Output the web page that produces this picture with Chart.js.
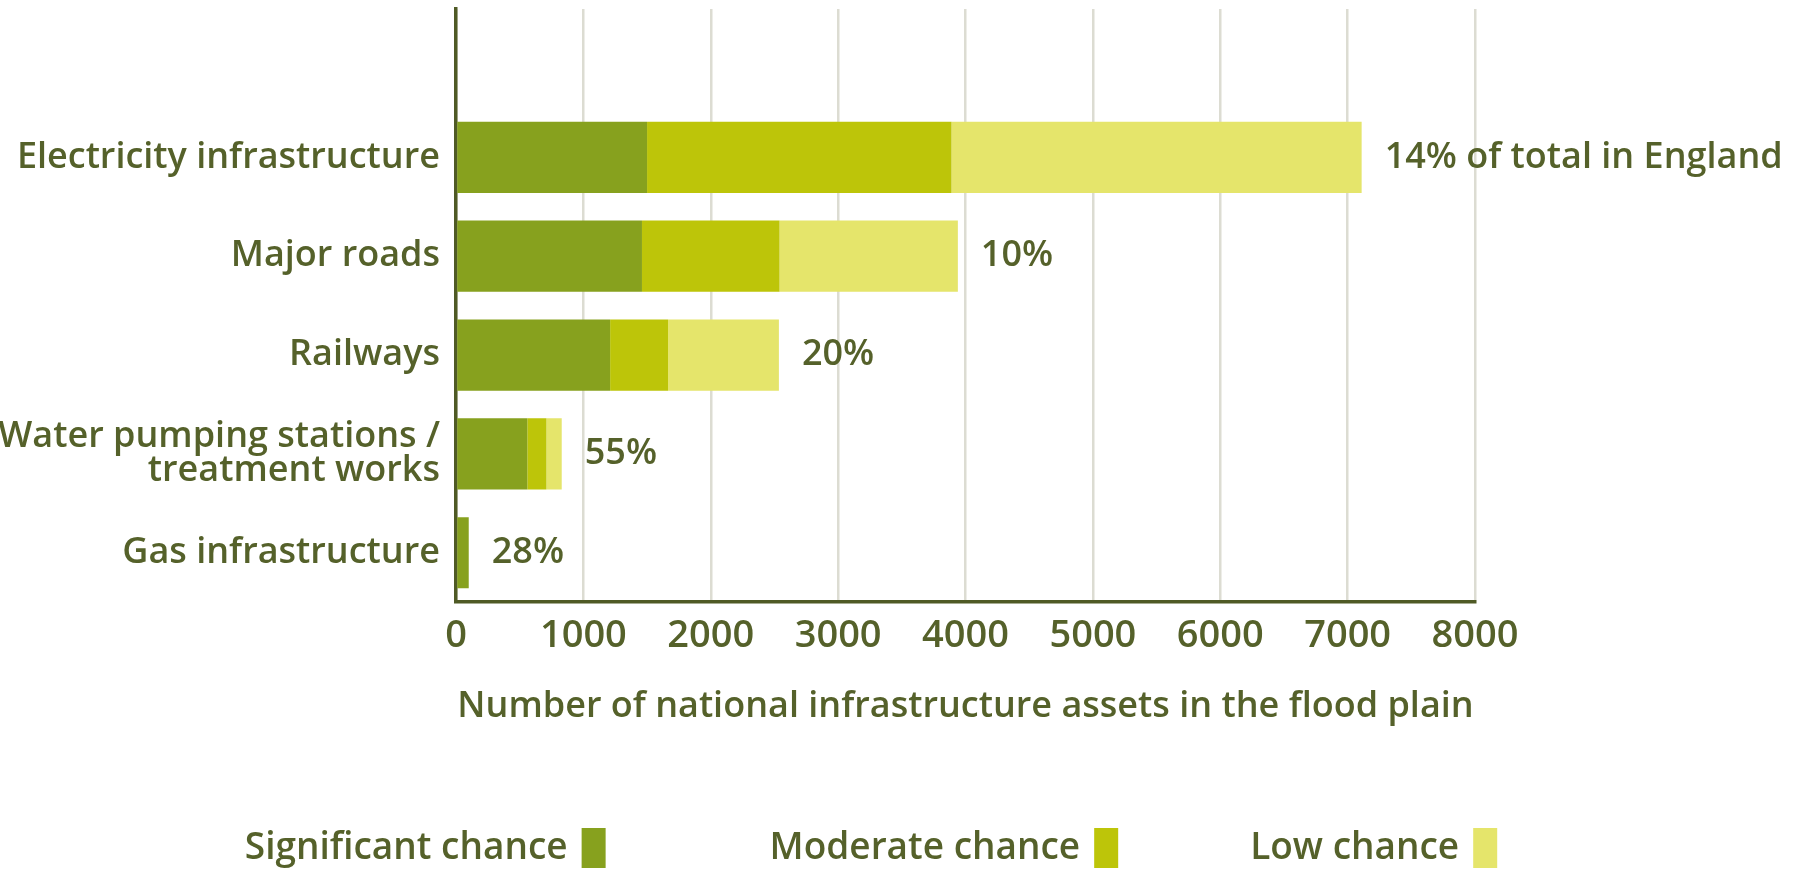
<!DOCTYPE html>
<html>
<head>
<meta charset="utf-8">
<title>National infrastructure assets in the flood plain</title>
<script src="https://cdn.jsdelivr.net/npm/chart.js@4.4.1/dist/chart.umd.min.js"></script>
<style>
  body { margin: 0; background: #ffffff; }
  #floodChart { display: block; }
</style>
</head>
<body>
<canvas id="floodChart" width="1798" height="869"></canvas>
<script>
const categories = [
    "Electricity infrastructure",
    "Major roads",
    "Railways",
    ["Water pumping stations /", "treatment works"],
    "Gas infrastructure"
];
const significantChance = [1500, 1460, 1210, 560, 100];
const moderateChance = [2390, 1080, 455, 150, 0];
const lowChance = [3220, 1400, 870, 120, 0];
const shareOfTotal = ["14% of total in England", "10%", "20%", "55%", "28%"];
const xTicks = [0, 1000, 2000, 3000, 4000, 5000, 6000, 7000, 8000];

const textColor = "#55612a";
const axisColor = "#4f5a25";
const fontFamily = "'Open Sans', 'Noto Sans', sans-serif";

// empty slot on top so the axis line runs up above the first bar
const labels = [""].concat(categories);
const withGap = arr => [null].concat(arr);

// the % labels at the end of each bar
const shareLabels = {
    id: "shareLabels",
    afterDatasetsDraw(chart) {
        const ctx = chart.ctx;
        const x = chart.scales.x;
        const y = chart.scales.y;
        ctx.save();
        ctx.font = "600 36px " + fontFamily;
        ctx.fillStyle = textColor;
        ctx.textAlign = "left";
        ctx.textBaseline = "middle";
        shareOfTotal.forEach((txt, i) => {
            const total = significantChance[i] + moderateChance[i] + lowChance[i];
            ctx.fillText(txt, x.getPixelForValue(total) + 23, y.getPixelForValue(i + 1));
        });
        ctx.restore();
    }
};

// legend: text first, then a tall swatch to its right
const sideLegend = {
    id: "sideLegend",
    afterDraw(chart) {
        const ctx = chart.ctx;
        const sets = chart.data.datasets;
        const gaps = [164, 132], swGap = 14, swW = 24, swH = 40;
        ctx.save();
        ctx.font = "600 37px " + fontFamily;
        const widths = sets.map(d => ctx.measureText(d.label).width + swGap + swW);
        const full = widths.reduce((a, b) => a + b, 0) + gaps.reduce((a, b) => a + b, 0);
        let x = 871 - full / 2;
        const cy = chart.height - 21;
        ctx.textAlign = "left";
        ctx.textBaseline = "middle";
        sets.forEach((d, i) => {
            ctx.fillStyle = textColor;
            ctx.fillText(d.label, x, cy);
            const tw = ctx.measureText(d.label).width;
            ctx.fillStyle = d.backgroundColor;
            ctx.fillRect(x + tw + swGap, cy - swH / 2, swW, swH);
            x += widths[i] + (gaps[i] || 0);
        });
        ctx.restore();
    }
};

const ctx = document.getElementById("floodChart").getContext("2d");
new Chart(ctx, {
    type: "bar",
    data: {
        labels: labels,
        datasets: [{
            label: "Significant chance",
            data: withGap(significantChance),
            backgroundColor: "#87a11e"
        }, {
            label: "Moderate chance",
            data: withGap(moderateChance),
            backgroundColor: "#bdc509"
        }, {
            label: "Low chance",
            data: withGap(lowChance),
            backgroundColor: "#e5e56b"
        }]
    },
    plugins: [shareLabels, sideLegend],
    options: {
        indexAxis: "y",
        responsive: false,
        animation: false,
        categoryPercentage: 0.72,
        barPercentage: 1.0,
        layout: {
            padding: { top: 9, left: 0, right: 323, bottom: 141 }
        },
        scales: {
            x: {
                stacked: true,
                min: 0,
                max: 8000,
                afterBuildTicks: s => { s.ticks = xTicks.map(v => ({ value: v })); },
                grid: {
                    color: "#dcdcd2",
                    lineWidth: 2.5,
                    drawTicks: false
                },
                border: { color: axisColor, width: 3.5 },
                ticks: {
                    padding: 11,
                    color: textColor,
                    font: { family: fontFamily, size: 38, weight: "600" },
                    callback: v => String(v)
                },
                title: {
                    display: true,
                    text: "Number of national infrastructure assets in the flood plain",
                    color: textColor,
                    font: { family: fontFamily, size: 36, weight: "600" },
                    padding: { top: 15, bottom: 0 }
                }
            },
            y: {
                stacked: true,
                afterFit: s => {
                    s.width = 456;
                    s.paddingTop = 0;
                    s.paddingBottom = 0;
                },
                grid: { display: false, drawTicks: false },
                border: { color: axisColor, width: 3.5 },
                ticks: {
                    padding: 16,
                    color: textColor,
                    font: { family: fontFamily, size: 36, weight: "600", lineHeight: 0.95 }
                }
            }
        },
        plugins: {
            legend: { display: false },
            tooltip: { enabled: false }
        }
    }
});
</script>
</body>
</html>
